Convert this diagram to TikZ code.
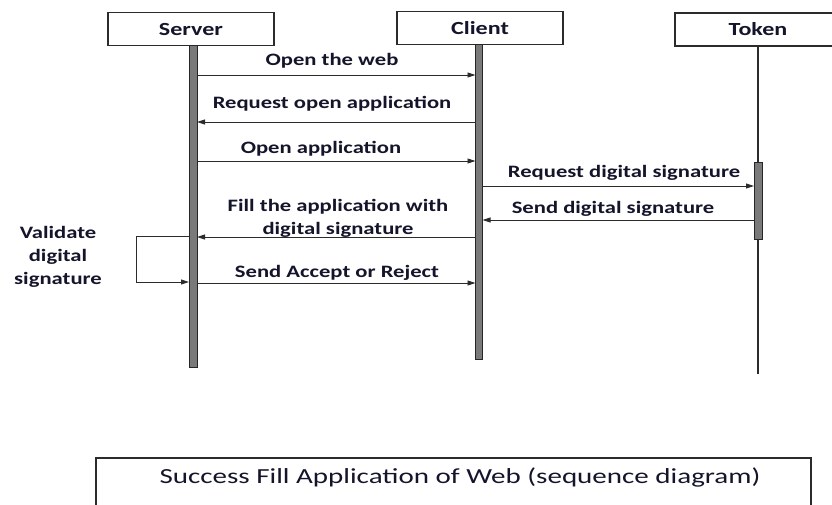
\documentclass[tikz,border=0pt]{standalone}
\usepackage{fontspec}
\setmainfont{Carlito}
\usetikzlibrary{arrows.meta}
\definecolor{barfill}{HTML}{7A7A7A}
\definecolor{inkline}{HTML}{2B2B2B}
\definecolor{txt}{HTML}{14142A}
% Calibri-like labels, set a little wider than the font's own shapes
\newcommand\widetxt[1]{\scalebox{1.3}[1]{#1}}
\tikzset{
  x=1pt, y=-1pt,
  every node/.style={inner sep=0pt, outer sep=0pt, text=txt},
  head/.style={draw=inkline, line width=1.2pt, fill=white, minimum width=166pt, minimum height=33pt,
    font=\bfseries\fontsize{18.5}{20}\selectfont},
  actbar/.style={draw=black!85, line width=0.9pt, fill=barfill, minimum width=8pt},
  msg/.style={draw=inkline, line width=0.9pt, -{Triangle[length=8pt,width=5pt]}},
  lbl/.style={font=\bfseries\fontsize{17.4}{23}\selectfont, align=center},
}
\begin{document}
\begin{tikzpicture}
\useasboundingbox (0,0) rectangle (832,504);
\clip (0,0) rectangle (832,504);

% participant headers
\node[head] (server) at (191,29) {\widetxt{Server}};
\node[head] (client) at (480,28) {\widetxt{Client}};
\node[head] (token)  at (758,29.5) {\widetxt{Token}};

% lifelines and activation bars
\node[actbar, minimum height=322pt] (sbar) at (193,206) {};
\node[actbar, minimum height=315pt, minimum width=7pt] (cbar) at (479,202) {};
\coordinate (tend) at (758,374);
\draw[inkline, line width=1.3pt] (token.south) -- (tend);
\node[actbar, minimum height=77pt] (tbar) at (758,200.5) {};

% messages
\draw[msg] (sbar.east |- 0,75)  -- (cbar.west |- 0,75);
\node[lbl] (m1) at (332,61)  {\widetxt{Open the web}};

\draw[msg] (cbar.west |- 0,122) -- (sbar.east |- 0,122);
\node[lbl] (m2) at (332,104) {\widetxt{Request open application}};

\draw[msg] (sbar.east |- 0,161) -- (cbar.west |- 0,161);
\node[lbl] (m3) at (321,149) {\widetxt{Open application}};

\draw[msg] (cbar.east |- 0,186) -- (tbar.west |- 0,186);
\node[lbl] (m4) at (624,173) {\widetxt{Request digital signature}};

\draw[msg] (tbar.west |- 0,220) -- (cbar.east |- 0,220);
\node[lbl] (m5) at (613,209) {\widetxt{Send digital signature}};

\node[lbl] (m6) at (338,218) {\widetxt{Fill the application with}\\\widetxt{digital signature}};
\draw[msg] (cbar.west |- 0,237) -- (sbar.east |- 0,237);

% self-call on the server
\coordinate (loopa) at (136,236);
\coordinate (loopb) at (136,282);
\draw[msg] (sbar.west |- loopa) -- (loopa) -- (loopb) -- (sbar.west |- loopb);
\node[lbl] (m7) at (58,257) {\widetxt{Validate}\\\widetxt{digital}\\\widetxt{signature}};

\draw[msg] (sbar.east |- 0,283) -- (cbar.west |- 0,283);
\node[lbl] (m8) at (337,273) {\widetxt{Send Accept or Reject}};

% caption box
\node[draw=inkline, line width=1.2pt, minimum width=715pt, minimum height=70pt, anchor=north west] (cap) at (96,458) {};
\node[font=\fontsize{21.5}{24}\selectfont] (captxt) at (460,477) {\scalebox{1.35}[1]{Success Fill Application of Web (sequence diagram)}};
\end{tikzpicture}
\end{document}
